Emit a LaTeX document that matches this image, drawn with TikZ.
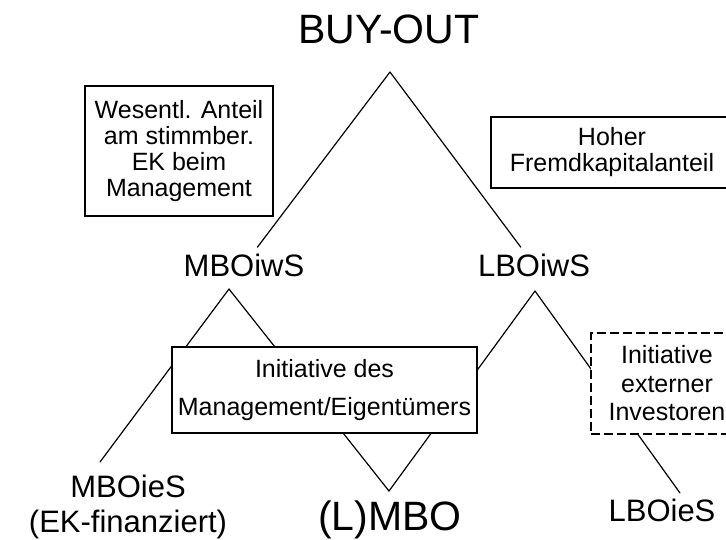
\documentclass[tikz,border=0pt]{standalone}
\usepackage{fontspec}
\setmainfont{Liberation Sans}
\usetikzlibrary{calc}
\tikzset{>=stealth}
\tikzset{
  lbl/.style={anchor=base, inner sep=3pt, font=\fontsize{31}{35}\selectfont, align=center},
  big/.style={anchor=base, inner sep=3pt, font=\fontsize{41}{44}\selectfont},
  txtbox/.style={draw, fill=white, line width=1.3pt, align=center, inner sep=2pt, font=\fontsize{25}{26}\selectfont},
  ast/.style={line width=1.2pt, line cap=round}
}

\begin{document}
\begin{tikzpicture}[x=1pt,y=-1pt]
\useasboundingbox (0,0) rectangle (726,539);
\clip (0,0) rectangle (726,539);

% obere Ebene
\node[big] (buyout) at (389,43) {BUY-OUT};
\coordinate (top) at (390,72);
\node[lbl] (mbows) at (244,276) {MBOiwS};
\node[lbl] (lbows) at (534,276) {LBOiwS};
\draw[ast,shorten >=4pt] (top) -- (mbows);
\draw[ast,shorten >=4pt] (top) -- (lbows);

% untere Ebene
\coordinate (ma) at (229,289);
\coordinate (la) at (535,291);
\coordinate (v) at (389,491);
\coordinate (me) at (100,462);
\coordinate (le) at (680,493);
\node[lbl,anchor=center] (mbies) at (128,507) {MBOieS\\(EK-finanziert)};
\node[big] (lmbo) at (390,530) {(L)MBO};
\node[lbl] (lbies) at (662,521) {LBOieS};
\draw[ast] (ma) -- (me);
\draw[ast] (ma) -- (v) -- (la);
\draw[ast] (la) -- (le);
%\draw[ast] (mbows) -- (mbies);

% Kriterien
\node[txtbox, minimum width=188pt, minimum height=130pt] (wes) at (179,151)
  {Wesentl. Anteil\\am stimmber.\\EK beim\\Management};
\node[txtbox, minimum width=242pt, minimum height=71pt] (fk) at (612,152.5)
  {Hoher\\Fremdkapitalanteil};
\node[txtbox, minimum width=305pt, minimum height=86pt, font=\fontsize{25}{38}\selectfont] (init) at (324.5,390)
  {Initiative des\\Management/Eigentümers};
\node[txtbox, dash pattern=on 9pt off 4pt, minimum width=152pt, minimum height=101pt, font=\fontsize{25}{28.5}\selectfont] (ext) at (667,383.5)
  {Initiative\\externer\\Investoren};
\end{tikzpicture}
\end{document}
